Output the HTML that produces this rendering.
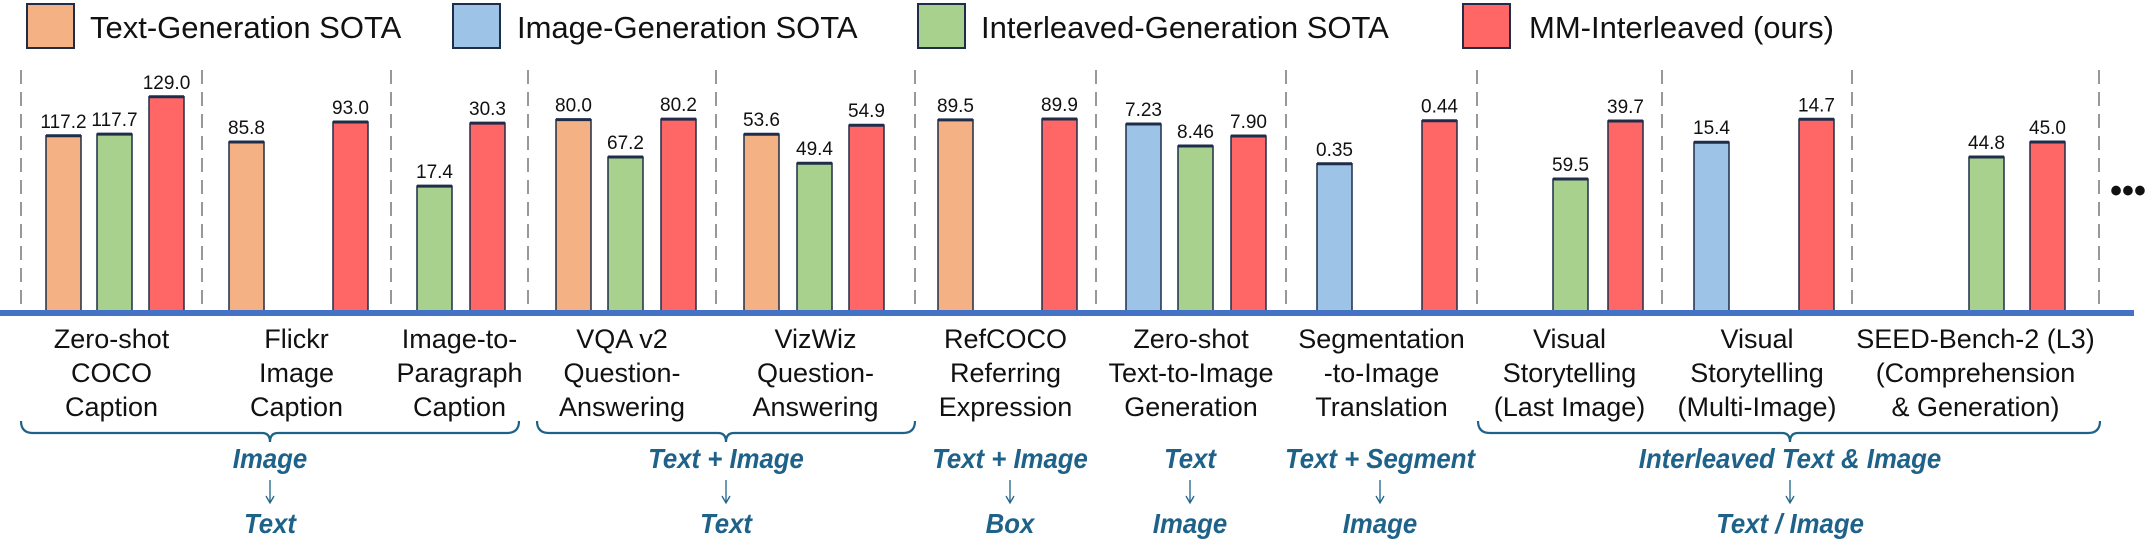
<!DOCTYPE html>
<html><head><meta charset="utf-8"><style>
html,body{margin:0;padding:0;background:#fff;}
svg{display:block;font-family:"Liberation Sans",sans-serif;}
</style></head><body>
<svg id="chart" width="2146" height="544" viewBox="0 0 2146 544" xmlns="http://www.w3.org/2000/svg">
<g id="legend"></g>
<g id="dividers"></g>
<g id="bars"></g>
<rect x="0" y="310" width="2134" height="6" fill="#4472c4"/>
<text x="2128" y="202" font-size="34" font-weight="bold" text-anchor="middle" fill="#111">•••</text>
<g id="cats"></g>
<g id="braces"></g>
</svg>
<script>
const NS="http://www.w3.org/2000/svg";
const legendNames=["Text-Generation SOTA","Image-Generation SOTA","Interleaved-Generation SOTA","MM-Interleaved (ours)"];
const colors=["#f4b183","#9dc3e6","#a9d18e","#ff6666"];
const categories=[["Zero-shot","COCO","Caption"],["Flickr","Image","Caption"],["Image-to-","Paragraph","Caption"],["VQA v2","Question-","Answering"],["VizWiz","Question-","Answering"],["RefCOCO","Referring","Expression"],["Zero-shot","Text-to-Image","Generation"],["Segmentation","-to-Image","Translation"],["Visual","Storytelling","(Last Image)"],["Visual","Storytelling","(Multi-Image)"],["SEED-Bench-2 (L3)","(Comprehension","& Generation)"]];
const textGen=[117.2,85.8,null,80.0,53.6,89.5,null,null,null,null,null];
const imageGen=[null,null,null,null,null,null,7.23,0.35,null,15.4,null];
const interGen=[117.7,null,17.4,67.2,49.4,null,8.46,null,59.5,null,44.8];
const ours=[129.0,93.0,30.3,80.2,54.9,89.9,7.90,0.44,39.7,14.7,45.0];
const textGenLabels=["117.2","85.8",null,"80.0","53.6","89.5",null,null,null,null,null];
const imageGenLabels=[null,null,null,null,null,null,"7.23","0.35",null,"15.4",null];
const interGenLabels=["117.7",null,"17.4","67.2","49.4",null,"8.46",null,"59.5",null,"44.8"];
const oursLabels=["129.0","93.0","30.3","80.2","54.9","89.9","7.90","0.44","39.7","14.7","45.0"];
const domainLo=[63.6,24.3,-8.6,13.8,27.7,0,17.79,0.038,105.2,20.6,42.72];
const domainHi=[137.1,111.7,41.2,97.0,62.9,112.6,4.21,0.546,22.3,13.2,45.96];
const braceGroups=[["Image","Text"],["Text + Image","Text"],["Text + Image","Box"],["Text","Image"],["Text + Segment","Image"],["Interleaved Text & Image","Text / Image"]];

const BASE=313, TOP=70;
function yScale(g,v){return BASE-(v-domainLo[g])/(domainHi[g]-domainLo[g])*(BASE-TOP);}
const dividerX=[21,202,391,528,716,915,1096,1286,1477,1662,1852,2099];
const slotX=[[46,null,97,149],[229,null,null,333],[null,null,417,470],[556,null,608,661],[744,null,797,849],[938,null,null,1042],[null,1126,1178,1231],[null,1317,null,1422],[null,null,1553,1608],[null,1694,null,1799],[null,null,1969,2030]];
const BW=35;
function mk(tag,attrs,parent){const e=document.createElementNS(NS,tag);for(const k in attrs)e.setAttribute(k,attrs[k]);parent.appendChild(e);return e;}

const lg=document.getElementById('legend');
const legX=[26,452,917,1462], legTX=[90,517,981,1529];
legendNames.forEach((n,i)=>{
  const r=mk('rect',{x:legX[i]+1,y:4,width:47,height:44,fill:colors[i],stroke:"#1f2d4a","stroke-width":2},lg);
  
  
  const t=mk('text',{x:legTX[i],y:38,"font-size":31,fill:"#111"},lg);
  t.textContent=n;
  
  
});
const dv=document.getElementById('dividers');
dividerX.forEach(x=>{
  const l=mk('line',{x1:x,x2:x,y1:70,y2:312,stroke:"#777","stroke-width":1.5,"stroke-dasharray":"14,8"},dv);
  
  
});
const bg=document.getElementById('bars');
const series=[textGen,imageGen,interGen,ours];
const labels=[textGenLabels,imageGenLabels,interGenLabels,oursLabels];
for(let g=0;g<categories.length;g++){
  for(let s=0;s<4;s++){
    const v=series[s][g]; if(v===null)continue;
    const x=slotX[g][s]; const y=yScale(g,v);
    const r=mk('rect',{x:x,y:y,width:BW,height:BASE-y,fill:colors[s],stroke:"#1f2d4a","stroke-width":1.5},bg);
    
    
    mk('line',{x1:x,x2:x+BW,y1:y,y2:y,stroke:"#1f2d4a","stroke-width":3},bg);
    const t=mk('text',{x:x+BW/2,y:y-8,"font-size":19,"text-anchor":"middle",fill:"#111"},bg);
    t.textContent=labels[s][g];
    
    
  }
}
const cg=document.getElementById('cats');
categories.forEach((lines,i)=>{
  const cx=(dividerX[i]+dividerX[i+1])/2;
  lines.forEach((ln,j)=>{
    const t=mk('text',{x:cx,y:348+j*34,"font-size":27,"text-anchor":"middle",fill:"#111"},cg);
    t.textContent=ln;
    
    
  });
});
const br=document.getElementById('braces');
const braceSpan=[[21,519,270],[537,915,726],[null,null,1010],[null,null,1190],[null,null,1380],[1478,2100,1790]];
const tc="#1f6289";
braceGroups.forEach((b,i)=>{
  const [x1,x2,cx]=braceSpan[i];
  if(x1!==null){
    const p=mk('path',{d:`M${x1},421 Q${x1},433 ${x1+12},433 L${cx-8},433 Q${cx},433 ${cx},442 Q${cx},433 ${cx+8},433 L${x2-12},433 Q${x2},433 ${x2},421`,fill:"none",stroke:tc,"stroke-width":2.2},br);
    
    
  }
  const t1=mk('text',{x:cx,y:468,"font-size":28,"font-weight":"bold","font-style":"italic","text-anchor":"middle",fill:tc,transform:`translate(${cx*0.08},0) scale(0.92,1)`},br);
  t1.textContent=b[0];
  
  
  const a=mk('line',{x1:cx,x2:cx,y1:480,y2:502,stroke:tc,"stroke-width":1.3},br);
  
  
  mk('path',{d:`M${cx-4},496 L${cx},503 L${cx+4},496`,fill:"none",stroke:tc,"stroke-width":1.3},br);
  const t2=mk('text',{x:cx,y:533,"font-size":28,"font-weight":"bold","font-style":"italic","text-anchor":"middle",fill:tc,transform:`translate(${cx*0.08},0) scale(0.92,1)`},br);
  t2.textContent=b[1];
  
  
});
</script>
</body></html>
